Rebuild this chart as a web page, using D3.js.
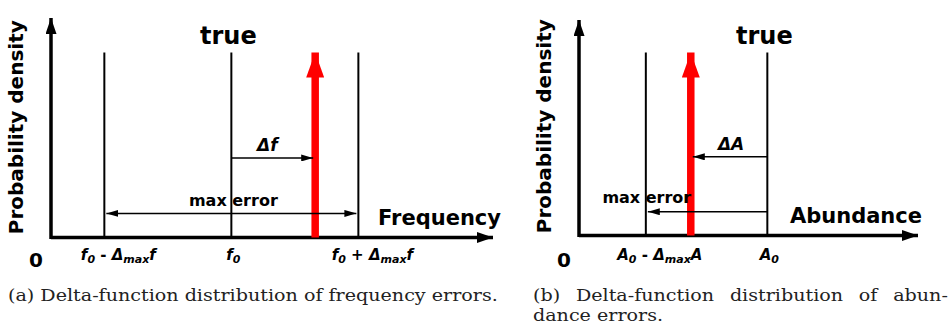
<!DOCTYPE html>
<html>
<head>
<meta charset="utf-8">
<script src="https://cdn.jsdelivr.net/npm/d3@7"></script>
<style>
  body { margin: 0; background: #fff; }
  svg { display: block; }
  .lbl { font-family: "DejaVu Sans", "Liberation Sans", Arial, sans-serif; font-weight: bold; fill: #000; }
  .cap { font-family: "DejaVu Serif", "Liberation Serif", serif; fill: #222; font-size: 17px; }
</style>
</head>
<body>
<div id="chart"></div>
<script>
// ----------------------------------------------
// Data (positions in units of the max error, density 0..1)
// ----------------------------------------------
const panelNames = ['a', 'b'];
const xDomains = [[-1.42, 2.06], [-1.55, 1.24]];
const refLines = [[-1, 0, 1], [-1, 0]];          // thin vertical lines
const trueValues = [0.66, -0.63];                // red delta spike
const tickLabels = [
  [['f', '0', ' - ', 'Δ', 'max', 'f'], ['f', '0'], ['f', '0', ' + ', 'Δ', 'max', 'f']],
  [['A', '0', ' - ', 'Δ', 'max', 'A'], ['A', '0']]
];
const deltaLabels = ['Δf', 'ΔA'];
const xTitles = ['Frequency', 'Abundance'];
const yTitle = 'Probability density';
const spikeHeight = 1;
const deltaArrowLevel = 0.43;
const maxErrArrowLevel = 0.13;
const captions = [
  ['(a) Delta-function distribution of frequency errors.'],
  ['(b) Delta-function distribution of abun-', 'dance errors.']
];

// ----------------------------------------------
// Layout
// ----------------------------------------------
const W = 952, H = 329;
const panels = [
  { x0: 51, x1: 493, y0: 237.5, yTop: 18, capX: 8, titleEnd: 501 },
  { x0: 579, x1: 918, y0: 235.5, yTop: 20, capX: 533, titleEnd: 922 }
];

const svg = d3.select('#chart').append('svg').attr('width', W).attr('height', H);
const defs = svg.append('defs');

function marker(id, len, wid, color) {
  defs.append('marker')
    .attr('id', id)
    .attr('viewBox', `0 ${-wid / 2} ${len} ${wid}`)
    .attr('refX', len).attr('refY', 0)
    .attr('markerUnits', 'userSpaceOnUse')
    .attr('markerWidth', len).attr('markerHeight', wid)
    .attr('orient', 'auto-start-reverse')
    .append('path')
    .attr('d', `M0,${-wid / 2}L${len},0L0,${wid / 2}Z`)
    .attr('fill', color);
}
marker('axisHead', 16, 11, '#000');
marker('smallHead', 12, 7, '#000');
marker('redHead', 25, 18, '#f00');

function tickText(g, x, y, parts) {
  const t = g.append('text').attr('class', 'lbl')
    .attr('x', x).attr('y', y)
    .attr('text-anchor', 'middle')
    .style('font-size', '15px').style('font-style', 'italic');
  parts.forEach((p, i) => {
    const ts = t.append('tspan').text(p);
    if (i === 1 || i === 4) ts.attr('baseline-shift', '-28%').style('font-size', '11px');
    if (i === 2) ts.style('font-style', 'normal');
  });
}

let capScale = 1;

panelNames.forEach((name, k) => {
  const P = panels[k];
  const g = svg.append('g').attr('class', 'panel-' + name);
  const x = d3.scaleLinear().domain(xDomains[k]).range([P.x0, P.x1]);
  const y = d3.scaleLinear().domain([0, 1]).range([P.y0, 52.5]);

  // reference lines
  g.selectAll('line.ref').data(refLines[k]).join('line')
    .attr('class', 'ref')
    .attr('x1', d => x(d)).attr('x2', d => x(d))
    .attr('y1', y(0)).attr('y2', y(1))
    .attr('stroke', '#000').attr('stroke-width', 2);

  // axes with arrows
  g.append('line')
    .attr('x1', P.x0).attr('y1', P.y0).attr('x2', P.x1).attr('y2', P.y0)
    .attr('stroke', '#000').attr('stroke-width', 3.5)
    .attr('marker-end', 'url(#axisHead)');
  g.append('line')
    .attr('x1', P.x0).attr('y1', P.y0 + 1.5).attr('x2', P.x0).attr('y2', P.yTop)
    .attr('stroke', '#000').attr('stroke-width', 3.5)
    .attr('marker-end', 'url(#axisHead)');

  // red spike
  g.append('line')
    .attr('x1', x(trueValues[k])).attr('x2', x(trueValues[k]))
    .attr('y1', y(0)).attr('y2', y(spikeHeight))
    .attr('stroke', '#f00').attr('stroke-width', 7.5)
    .attr('marker-end', 'url(#redHead)');

  // delta arrow: from f0 to true
  g.append('line')
    .attr('x1', x(0)).attr('x2', x(trueValues[k]) + (trueValues[k] > 0 ? -2 : 2))
    .attr('y1', y(deltaArrowLevel)).attr('y2', y(deltaArrowLevel))
    .attr('stroke', '#000').attr('stroke-width', 1.5)
    .attr('marker-end', 'url(#smallHead)');
  g.append('text').attr('class', 'lbl')
    .attr('x', (x(0) + x(trueValues[k])) / 2 + (k === 0 ? -6 : 2))
    .attr('y', y(deltaArrowLevel) - 7)
    .attr('text-anchor', 'middle')
    .style('font-size', '17px').style('font-style', 'italic')
    .text(deltaLabels[k]);

  // max error arrow
  const mErr = g.append('line')
    .attr('y1', y(maxErrArrowLevel)).attr('y2', y(maxErrArrowLevel))
    .attr('stroke', '#000').attr('stroke-width', 1.5)
    .attr('marker-end', 'url(#smallHead)');
  if (k === 0) {
    mErr.attr('x1', x(-1) + 2).attr('x2', x(1) - 2).attr('marker-start', 'url(#smallHead)');
    g.append('text').attr('class', 'lbl')
      .attr('x', (x(-1) + x(1)) / 2 + 2).attr('y', y(maxErrArrowLevel) - 7)
      .attr('text-anchor', 'middle').style('font-size', '16px')
      .text('max error');
  } else {
    mErr.attr('x1', x(0)).attr('x2', x(-1) + 2);
    g.append('text').attr('class', 'lbl')
      .attr('x', x(-1) + 1).attr('y', y(maxErrArrowLevel) - 9)
      .attr('text-anchor', 'middle').style('font-size', '16px')
      .text('max error');
  }

  // "true" label above f0 / A0
  g.append('text').attr('class', 'lbl')
    .attr('x', x(0) - 3).attr('y', 44)
    .attr('text-anchor', 'middle').style('font-size', '24px')
    .text('true');

  // axis titles
  g.append('text').attr('class', 'lbl')
    .attr('x', P.titleEnd).attr('y', P.y0 - 13)
    .attr('text-anchor', 'end').style('font-size', '21px')
    .text(xTitles[k]);
  g.append('text').attr('class', 'lbl')
    .attr('transform', `translate(${P.x0 - 28},${(P.y0 + 13) / 2 + 2}) rotate(-90)`)
    .attr('text-anchor', 'middle').style('font-size', '20px')
    .text(yTitle);

  // origin label
  g.append('text').attr('class', 'lbl')
    .attr('x', P.x0 - 15).attr('y', 267)
    .attr('text-anchor', 'middle').style('font-size', '20px')
    .text('0');

  // tick labels
  const tickPos = refLines[k];
  tickLabels[k].forEach((parts, i) => {
    tickText(g, x(tickPos[i]) + (parts.length > 2 ? 14 : 2), 260, parts);
  });

  // caption: serif, (b) first line justified by word spacing
  captions[k].forEach((line, i) => {
    const t = g.append('text').attr('class', 'cap')
      .attr('x', 0).attr('y', 0)
      .text(line);
    const w = t.node().getComputedTextLength();
    if (k === 0) capScale = 490 / w;
    if (k === 1 && i === 0) {
      const gaps = line.split(' ').length - 1;
      t.attr('word-spacing', (415 / capScale - w) / gaps);
    }
    t.attr('transform', `translate(${P.capX},${301 + i * 20}) scale(${capScale},1)`);
  });
});
</script>
</body>
</html>
